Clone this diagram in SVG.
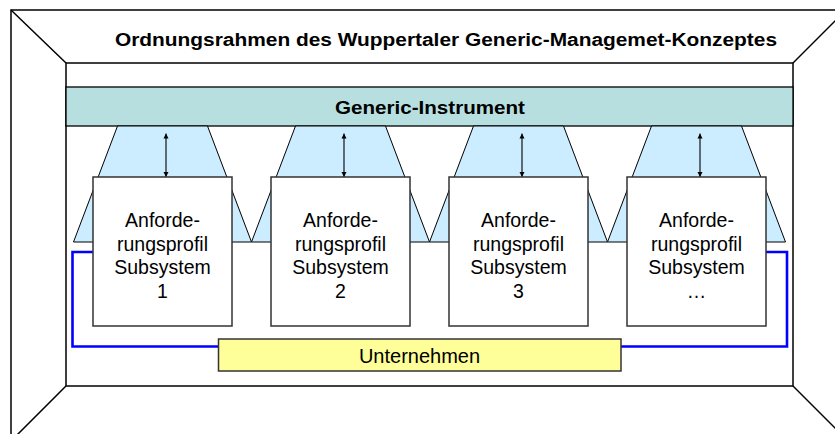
<svg xmlns="http://www.w3.org/2000/svg" width="835" height="434" viewBox="0 0 835 434">
<defs>
<style>
.frame{fill:none;stroke:#000;stroke-width:1.5}
.bar{fill:#B8DFE0;stroke:#000;stroke-width:1.3}
.trap{fill:#CCECFF;stroke:#000;stroke-width:1}
.box{fill:#fff;stroke:#333;stroke-width:1.5}
.unt{fill:#FFFF99;stroke:#333;stroke-width:1.5}
.blue{fill:none;stroke:#0000FF;stroke-width:2.6}
.arr{stroke:#000;stroke-width:1.1;marker-start:url(#ah);marker-end:url(#ah)}
.t{font-family:"Liberation Sans",Arial,sans-serif;fill:#000;text-anchor:middle}
.bt{font-size:19.5px}
.bold{font-weight:bold}
</style>
<marker id="ah" viewBox="0 0 10 10" refX="10" refY="5" markerWidth="5" markerHeight="6" markerUnits="userSpaceOnUse" orient="auto-start-reverse">
<path d="M0,0 L10,5 L0,10 z" fill="#000"/>
</marker>
</defs>
<rect width="835" height="434" fill="#fff"/>
<g id="frame">
<rect class="frame" x="11" y="10" width="835" height="428"/>
<line class="frame" x1="11" y1="10" x2="66" y2="63"/>
<line class="frame" x1="793" y1="63" x2="846" y2="10"/>
<line class="frame" x1="66" y1="386" x2="14" y2="438"/>
<line class="frame" x1="793" y1="386" x2="845" y2="438"/>
<rect class="frame" x="66" y="63" width="727" height="323"/>
<text class="t bold" x="446" y="46" font-size="18" textLength="662" lengthAdjust="spacingAndGlyphs">Ordnungsrahmen des Wuppertaler Generic-Managemet-Konzeptes</text>
</g>
<g id="generic-instrument">
<rect class="bar" x="66" y="87" width="727" height="39"/>
<text class="t bold" x="430" y="114" font-size="17.5" textLength="190" lengthAdjust="spacingAndGlyphs">Generic-Instrument</text>
</g>
<g id="interfaces">
<polygon class="trap" points="117.5,126 207.5,126 251.5,242 73.5,242"/>
<polygon class="trap" points="295.5,126 385.5,126 429.5,242 251.5,242"/>
<polygon class="trap" points="473.5,126 563.5,126 607.5,242 429.5,242"/>
<polygon class="trap" points="651.5,126 741.5,126 785.5,242 607.5,242"/>
</g>
<g id="connectors">
<polyline class="blue" points="95,252 72.5,252 72.5,346.5 219,346.5"/>
<polyline class="blue" points="765,252 787,252 787,346.5 621,346.5"/>
<line class="arr" x1="166" y1="133.5" x2="166" y2="177"/>
<line class="arr" x1="344" y1="133.5" x2="344" y2="177"/>
<line class="arr" x1="522" y1="133.5" x2="522" y2="177"/>
<line class="arr" x1="700" y1="133.5" x2="700" y2="177"/>
</g>
<g id="subsystem-1">
<rect class="box" x="93" y="177" width="139" height="149"/>
<text class="t bt" x="162.5" y="227">Anforde-</text>
<text class="t bt" x="162.5" y="250.5">rungsprofil</text>
<text class="t bt" x="162.5" y="274">Subsystem</text>
<text class="t bt" x="162.5" y="297.5">1</text>
</g>
<g id="subsystem-2">
<rect class="box" x="271" y="177" width="139" height="149"/>
<text class="t bt" x="340.5" y="227">Anforde-</text>
<text class="t bt" x="340.5" y="250.5">rungsprofil</text>
<text class="t bt" x="340.5" y="274">Subsystem</text>
<text class="t bt" x="340.5" y="297.5">2</text>
</g>
<g id="subsystem-3">
<rect class="box" x="449" y="177" width="139" height="149"/>
<text class="t bt" x="518.5" y="227">Anforde-</text>
<text class="t bt" x="518.5" y="250.5">rungsprofil</text>
<text class="t bt" x="518.5" y="274">Subsystem</text>
<text class="t bt" x="518.5" y="297.5">3</text>
</g>
<g id="subsystem-n">
<rect class="box" x="627" y="177" width="139" height="149"/>
<text class="t bt" x="696.5" y="227">Anforde-</text>
<text class="t bt" x="696.5" y="250.5">rungsprofil</text>
<text class="t bt" x="696.5" y="274">Subsystem</text>
<text class="t bt" x="696.5" y="297.5">…</text>
</g>
<g id="unternehmen">
<rect class="unt" x="218.5" y="339" width="402.5" height="32"/>
<text class="t" x="419.5" y="363" font-size="20">Unternehmen</text>
</g>
</svg>
